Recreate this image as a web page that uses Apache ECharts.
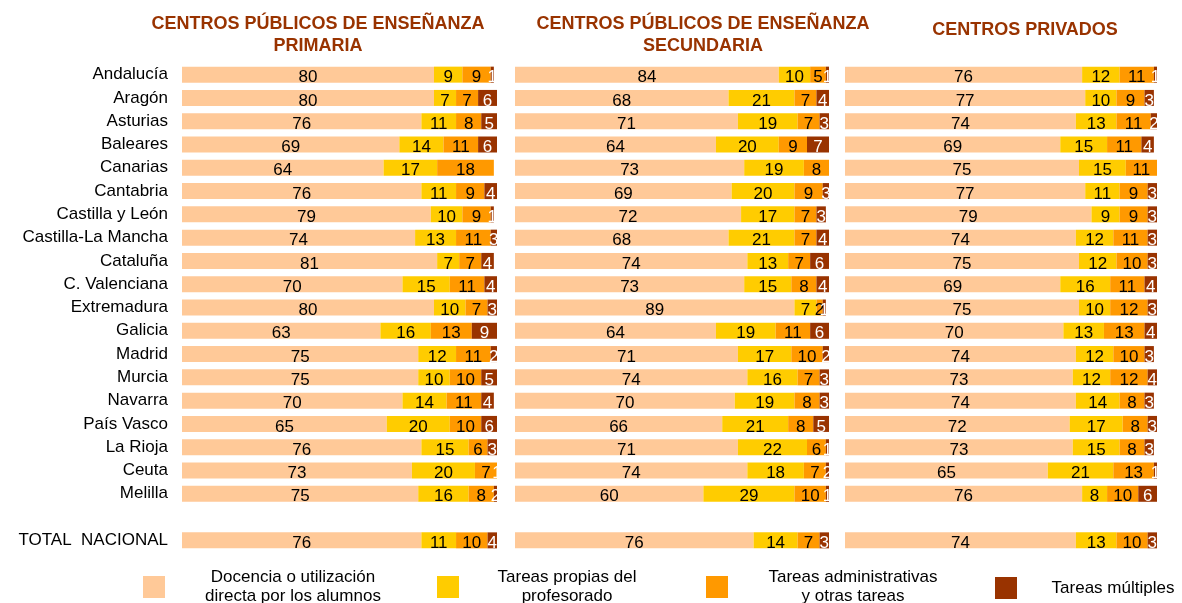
<!DOCTYPE html>
<html>
<head>
<meta charset="utf-8">
<script src="https://cdn.jsdelivr.net/npm/echarts@6/dist/echarts.min.js"></script>
<style>
    body{ margin:0; background:#fff; }
    #chart{ width:1182px; height:603px; }
</style>
</head>
<body>
<div id="chart"></div>
<script>
// comunidades (la fila vacía separa el total)
const regiones = ['Andalucía', 'Aragón', 'Asturias', 'Baleares', 'Canarias', 'Cantabria', 'Castilla y León',
    'Castilla-La Mancha', 'Cataluña', 'C. Valenciana', 'Extremadura', 'Galicia', 'Madrid', 'Murcia',
    'Navarra', 'País Vasco', 'La Rioja', 'Ceuta', 'Melilla', '', 'TOTAL  NACIONAL']

const tareas = ['Docencia o utilización directa por los alumnos', 'Tareas propias del profesorado',
    'Tareas administrativas y otras tareas', 'Tareas múltiples']

const titulos = ['CENTROS PÚBLICOS DE ENSEÑANZA\nPRIMARIA', 'CENTROS PÚBLICOS DE ENSEÑANZA\nSECUNDARIA', 'CENTROS PRIVADOS']

// primaria
const primDocencia = [80, 80, 76, 69, 64, 76, 79, 74, 81, 70, 80, 63, 75, 75, 70, 65, 76, 73, 75, null, 76]
const primPropias  = [9, 7, 11, 14, 17, 11, 10, 13, 7, 15, 10, 16, 12, 10, 14, 20, 15, 20, 16, null, 11]
const primAdmin    = [9, 7, 8, 11, 18, 9, 9, 11, 7, 11, 7, 13, 11, 10, 11, 10, 6, 7, 8, null, 10]
const primMultiple = [1, 6, 5, 6, 0, 4, 1, 3, 4, 4, 3, 9, 2, 5, 4, 6, 3, 1, 2, null, 4]

// secundaria
const secDocencia = [84, 68, 71, 64, 73, 69, 72, 68, 74, 73, 89, 64, 71, 74, 70, 66, 71, 74, 60, null, 76]
const secPropias  = [10, 21, 19, 20, 19, 20, 17, 21, 13, 15, 7, 19, 17, 16, 19, 21, 22, 18, 29, null, 14]
const secAdmin    = [5, 7, 7, 9, 8, 9, 7, 7, 7, 8, 2, 11, 10, 7, 8, 8, 6, 7, 10, null, 7]
const secMultiple = [1, 4, 3, 7, 0, 3, 3, 4, 6, 4, 1, 6, 2, 3, 3, 5, 1, 2, 1, null, 3]

// privados
const privDocencia = [76, 77, 74, 69, 75, 77, 79, 74, 75, 69, 75, 70, 74, 73, 74, 72, 73, 65, 76, null, 74]
const privPropias  = [12, 10, 13, 15, 15, 11, 9, 12, 12, 16, 10, 13, 12, 12, 14, 17, 15, 21, 8, null, 13]
const privAdmin    = [11, 9, 11, 11, 11, 9, 9, 11, 10, 11, 12, 13, 10, 12, 8, 8, 8, 13, 10, null, 10]
const privMultiple = [1, 3, 2, 4, 0, 3, 3, 3, 3, 4, 3, 4, 3, 4, 3, 3, 3, 1, 6, null, 3]

const colores = ['#ffc998', '#ffcc00', '#ff9900', '#993300']
const fuente = 'Liberation Sans, Arial, sans-serif'

const paneles = [
    [primDocencia, primPropias, primAdmin, primMultiple],
    [secDocencia, secPropias, secAdmin, secMultiple],
    [privDocencia, privPropias, privAdmin, privMultiple]
]
const grids = [
    { left: 182, width: 315, top: 63, height: 489 },
    { left: 515, width: 314, top: 63, height: 489 },
    { left: 845, width: 312, top: 63, height: 489 }
]
const centrosTitulo = [313, 698, 1020]

let chart = echarts.init(document.getElementById('chart'))

let option = {
    animation: false,
    textStyle: { fontFamily: fuente },
    color: colores,
    title: [],
    legend: [],
    grid: grids,
    xAxis: [],
    yAxis: [],
    series: []
}

for (let p = 0; p < 3; p++) {
    option.title.push({
        text: titulos[p],
        left: centrosTitulo[p],
        top: p == 2 ? 14 : 8,
        textAlign: 'center',
        textStyle: { color: '#993300', fontSize: 18, fontWeight: 'bold', lineHeight: 22, fontFamily: fuente }
    })
    option.xAxis.push({ type: 'value', gridIndex: p, min: 0, max: 100, show: false })
    option.yAxis.push({
        type: 'category',
        gridIndex: p,
        inverse: true,
        data: regiones,
        axisLine: { show: false },
        axisTick: { show: false },
        axisLabel: { show: p == 0, color: '#000', fontSize: 17, margin: 14, padding: [4, 0, 0, 0], fontFamily: fuente }
    })
    for (let t = 0; t < 4; t++) {
        option.series.push({
            name: tareas[t],
            type: 'bar',
            stack: 'panel' + p,
            xAxisIndex: p,
            yAxisIndex: p,
            barWidth: 16,
            data: paneles[p][t],
            itemStyle: { color: colores[t] },
            label: {
                show: true,
                position: 'inside',
                offset: [0, 3],
                fontSize: 17,
                fontFamily: fuente,
                color: t == 3 ? '#fff' : '#000',
                formatter: (d) => d.value ? d.value : ''
            }
        })
    }
}

// leyenda: una por cada tarea, texto centrado en dos líneas
const leyendaTextos = ['Docencia o utilización\ndirecta por los alumnos', 'Tareas propias del\nprofesorado',
    'Tareas administrativas\ny otras tareas', 'Tareas múltiples']
const leyendaLeft = [138, 432, 701, 990]
const leyendaAncho = [246, 206, 240, 182]
for (let t = 0; t < 4; t++) {
    option.legend.push({
        data: [tareas[t]],
        left: leyendaLeft[t],
        top: t == 3 ? 572 : 564,
        itemWidth: 22,
        itemHeight: 22,
        selectedMode: false,
        icon: 'rect',
        formatter: () => '{a|' + leyendaTextos[t] + '}',
        textStyle: {
            rich: {
                a: { width: leyendaAncho[t], align: 'center', fontSize: 17, lineHeight: 19, color: '#000', fontFamily: fuente }
            }
        }
    })
}

chart.setOption(option)
</script>
</body>
</html>
